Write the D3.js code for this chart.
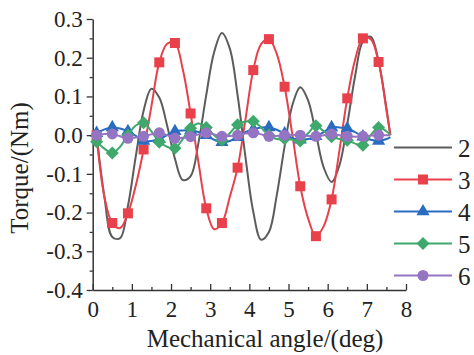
<!DOCTYPE html>
<html>
<head>
<meta charset="utf-8">
<script src="https://cdn.jsdelivr.net/npm/d3@7"></script>
<style>
  body { margin: 0; background: #fff; }
  svg text { font-family: "Liberation Serif", "Times New Roman", serif; fill: #222; }
</style>
</head>
<body>
<svg id="chart" width="474" height="355"></svg>
<script>
// mechanical angle (deg), same x for every harmonic
var angle = [0.1, 0.3, 0.5, 0.7, 0.9, 1.1, 1.3, 1.5, 1.7, 1.9,
             2.1, 2.3, 2.5, 2.7, 2.9, 3.1, 3.3, 3.5, 3.7, 3.9,
             4.1, 4.3, 4.5, 4.7, 4.9, 5.1, 5.3, 5.5, 5.7, 5.9,
             6.1, 6.3, 6.5, 6.7, 6.9, 7.1, 7.3, 7.5, 7.6];

var torque2 = [0, -0.160, -0.263, -0.266, -0.183, -0.055, 0.063, 0.120, 0.097, 0.025,
               -0.061, -0.116, -0.106, -0.020, 0.104, 0.214, 0.264, 0.224, 0.103, -0.056,
               -0.198, -0.270, -0.250, -0.155, -0.029, 0.078, 0.124, 0.090, 0.004, -0.084,
               -0.121, -0.078, 0.028, 0.152, 0.242, 0.254, 0.190, 0.070, 0];

var torque3 = [0, -0.16, -0.227, -0.240, -0.202, -0.13, -0.037, 0.075, 0.188, 0.236,
               0.238, 0.17, 0.056, -0.07, -0.189, -0.243, -0.227, -0.16, -0.084, 0.04,
               0.168, 0.235, 0.248, 0.21, 0.125, 0.0, -0.132, -0.215, -0.261, -0.235,
               -0.166, -0.04, 0.095, 0.195, 0.25, 0.248, 0.189, 0.065, 0];

var torque4 = [0.005, 0.015, 0.02, 0.017, 0.01, -0.002, -0.015, -0.015, -0.01, 0.0,
               0.01, 0.012, 0.012, 0.008, 0.0, -0.012, -0.018, -0.015, -0.005, 0.008,
               0.015, 0.02, 0.02, 0.014, 0.004, -0.008, -0.012, -0.01, -0.003, 0.008,
               0.02, 0.02, 0.017, 0.008, -0.004, -0.012, -0.015, -0.01, -0.005];

var torque5 = [-0.017, -0.035, -0.046, -0.03, 0.0, 0.025, 0.032, 0.01, -0.018, -0.03,
               -0.034, -0.01, 0.018, 0.03, 0.02, 0.0, -0.013, 0.005, 0.027, 0.035,
               0.036, 0.02, 0.0, -0.01, -0.009, -0.012, -0.015, 0.005, 0.024, 0.01,
               -0.004, -0.01, -0.013, -0.022, -0.026, 0.0, 0.02, 0.01, 0];

var torque6 = [0.0, 0.003, 0.003, -0.003, -0.008, -0.006, -0.003, 0.002, 0.006, 0.0,
               -0.008, -0.007, -0.004, 0.002, 0.006, 0.002, -0.003, -0.002, 0.0, 0.004,
               0.006, 0.002, -0.003, -0.002, 0.0, 0.001, 0.0, -0.002, -0.003, 0.0,
               0.003, 0.0, -0.003, -0.004, -0.003, -0.001, 0.0, 0.0, 0.0];

var harmonics = ["2", "3", "4", "5", "6"];
var xTicks = [0, 1, 2, 3, 4, 5, 6, 7, 8];
var yTicks = [-0.4, -0.3, -0.2, -0.1, 0.0, 0.1, 0.2, 0.3];

var series = [
  {name: "2", values: torque2, color: "#5c5c5c", symbol: null},
  {name: "3", values: torque3, color: "#e8414b", symbol: "square"},
  {name: "4", values: torque4, color: "#2a6cc0", symbol: "triangle"},
  {name: "5", values: torque5, color: "#3fa86c", symbol: "diamond"},
  {name: "6", values: torque6, color: "#9474c3", symbol: "circle"}
];

var serif = '"Liberation Serif", "Times New Roman", serif';
var svg = d3.select("#chart");

var x = d3.scaleLinear().domain([0, 8]).range([92.7, 406]);
var y = d3.scaleLinear().domain([-0.4, 0.3]).range([290, 19]);

// axes
var yMinor = d3.range(-0.35, 0.3, 0.1);
svg.append("g")
  .attr("transform", "translate(92.7,0)")
  .call(d3.axisLeft(y).tickValues(yMinor).tickSize(3).tickFormat("").tickSizeOuter(0))
  .call(function(g){ g.select(".domain").remove(); g.selectAll("line").attr("stroke", "#333").attr("stroke-width", 1.3); });

var yAxis = svg.append("g")
  .attr("transform", "translate(92.7,0)")
  .call(d3.axisLeft(y).tickValues(yTicks).tickSize(6).tickPadding(4).tickSizeOuter(0)
    .tickFormat(function(d){ return d.toFixed(1); }));

var xMinor = d3.range(0.5, 8, 1);
svg.append("g")
  .attr("transform", "translate(0,290)")
  .call(d3.axisBottom(x).tickValues(xMinor).tickSize(-3).tickFormat("").tickSizeOuter(0))
  .call(function(g){ g.select(".domain").remove(); g.selectAll("line").attr("stroke", "#333").attr("stroke-width", 1.3); });

var xAxis = svg.append("g")
  .attr("transform", "translate(0,290)")
  .call(d3.axisBottom(x).tickValues(xTicks).tickSize(-6).tickSizeOuter(0).tickFormat(d3.format("d")));
xAxis.selectAll("text").attr("dy", null).attr("y", 27);

[yAxis, xAxis].forEach(function(g){
  g.attr("font-family", serif).attr("font-size", 23);
  g.selectAll("text").style("font-family", serif).style("font-size", "23px").attr("fill", "#222");
  g.select(".domain").attr("stroke", "#333").attr("stroke-width", 1.5);
  g.selectAll(".tick line").attr("stroke", "#333").attr("stroke-width", 1.3);
});

// titles
svg.append("text")
  .attr("x", 265).attr("y", 347)
  .attr("text-anchor", "middle")
  .style("font-size", "25px")
  .text("Mechanical angle/(deg)");

svg.append("text")
  .attr("transform", "translate(28,168) rotate(-90)")
  .attr("text-anchor", "middle")
  .style("font-size", "25px")
  .text("Torque/(Nm)");

// marker shapes
function symbolPath(kind){
  if (kind == "square") return d3.symbol(d3.symbolSquare, 100)();
  if (kind == "triangle") return d3.symbol(d3.symbolTriangle, 75)();
  if (kind == "diamond") return d3.symbol(d3.symbolSquare, 85)();
  return d3.symbol(d3.symbolCircle, 95)();
}

var line = d3.line()
  .x(function(d){ return x(d[0]); })
  .y(function(d){ return y(d[1]); })
  .curve(d3.curveCatmullRom);

series.forEach(function(s){
  var pts = angle.map(function(a, i){ return [a, s.values[i]]; });
  svg.append("path")
    .attr("d", line(pts))
    .attr("fill", "none")
    .attr("stroke", s.color)
    .attr("stroke-width", 2);

  if (s.symbol) {
    // marker every 0.4 deg starting at 0.1
    var marked = pts.filter(function(p){
      var k = (p[0] - 0.1) / 0.4;
      return Math.abs(k - Math.round(k)) < 1e-6;
    });
    svg.append("g").selectAll("path")
      .data(marked)
      .enter()
      .append("path")
      .attr("d", symbolPath(s.symbol))
      .attr("transform", function(d){
        var t = "translate(" + x(d[0]) + "," + y(d[1]) + ")";
        if (s.symbol == "diamond") t += " rotate(45)";
        return t;
      })
      .attr("fill", s.color);
  }
});

// legend
var legend = svg.append("g");
series.forEach(function(s, i){
  var cy = 147.5 + i * 32;
  legend.append("line")
    .attr("x1", 394).attr("x2", 452)
    .attr("y1", cy).attr("y2", cy)
    .attr("stroke", s.color).attr("stroke-width", 2);
  if (s.symbol) {
    legend.append("path")
      .attr("d", symbolPath(s.symbol))
      .attr("transform", "translate(423," + cy + ")" + (s.symbol == "diamond" ? " rotate(45)" : ""))
      .attr("fill", s.color);
  }
  legend.append("text")
    .attr("x", 458).attr("y", cy + 9)
    .style("font-size", "25px")
    .text(harmonics[i]);
});
</script>
</body>
</html>
